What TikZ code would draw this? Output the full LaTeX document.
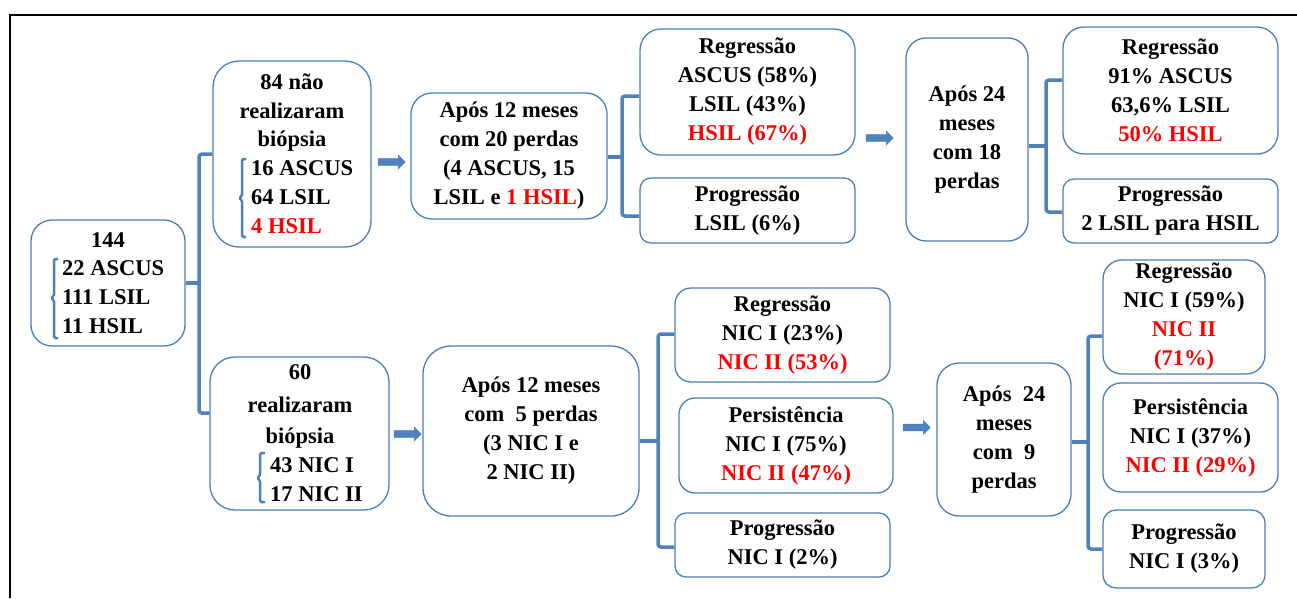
\documentclass[tikz,border=0pt]{standalone}
\usepackage{fontspec}
\setmainfont{Liberation Serif}
\usetikzlibrary{shapes.arrows}
\definecolor{boxblue}{RGB}{74,126,187}
\definecolor{brblue}{RGB}{79,129,189}
\definecolor{txtred}{RGB}{255,0,0}
\newcommand{\rd}[1]{\textcolor{txtred}{#1}}
\tikzset{
  box/.style={draw=boxblue, line width=1.3pt, rectangle, align=center, inner sep=0pt,
    font=\bfseries\fontsize{22.5}{29}\selectfont},
  txt/.style={inner sep=0pt, anchor=base, font=\bfseries\fontsize{22.5}{29}\selectfont},
  txtl/.style={txt, anchor=base west},
  brace/.style={draw=brblue, line width=3.5pt, rounded corners=3pt},
  bracket/.style={draw=brblue, line width=2.5pt, rounded corners=1.5pt},
  barrow/.style={single arrow, draw=boxblue, fill=brblue, line width=0.6pt,
    minimum height=27pt, inner xsep=0pt, inner ysep=3pt,
    single arrow head extend=3.5pt}
}
\begin{document}
\begin{tikzpicture}[x=1pt,y=-1pt]
\useasboundingbox (0,0) rectangle (1297,598);
% outer frame
\draw[line width=2pt] (10,598) -- (10,15) -- (1297,15);

% boxes
\node[box, minimum width=154pt, minimum height=126pt, rounded corners=21pt] (A) at (108,283) {};
\node[box, minimum width=158pt, minimum height=186pt, rounded corners=26pt] (B) at (292,154) {};
\node[box, minimum width=179pt, minimum height=153pt, rounded corners=25pt] (C) at (299.5,433.5) {};
\node[box, minimum width=196pt, minimum height=126pt, rounded corners=21pt] (D) at (509,156)
  {Após 12 meses\\com 20 perdas\\(4 ASCUS, 15\\LSIL e \rd{1 HSIL})};
\node[box, minimum width=215pt, minimum height=126pt, rounded corners=21pt] (E) at (747.5,92)
  {Regressão\\ASCUS (58\%)\\LSIL (43\%)\\\rd{HSIL (67\%)}};
\node[box, minimum width=215pt, minimum height=65pt, rounded corners=11pt] (F) at (747.5,210.5)
  {Progressão\\LSIL (6\%)};
\node[box, minimum width=122pt, minimum height=203pt, rounded corners=20pt] (G) at (967,139.5)
  {Após 24\\meses\\com 18\\perdas};
\node[box, minimum width=215pt, minimum height=127pt, rounded corners=21pt] (H) at (1170.5,90.5)
  {Regressão\\91\% ASCUS\\63,6\% LSIL\\\rd{50\% HSIL}};
\node[box, minimum width=215pt, minimum height=64pt, rounded corners=11pt] (I) at (1170.5,211)
  {Progressão\\2 LSIL para HSIL};
\node[box, minimum width=216pt, minimum height=170pt, rounded corners=28pt] (J) at (531,431)
  {Após 12 meses\\com\ \ 5 perdas\\(3 NIC I e\\2 NIC II)};
\node[box, minimum width=215pt, minimum height=94pt, rounded corners=16pt] (K) at (782.5,335)
  {Regressão\\NIC I (23\%)\\\rd{NIC II (53\%)}};
\node[box, minimum width=214pt, minimum height=95pt, rounded corners=16pt] (L) at (786,445.5)
  {Persistência\\NIC I (75\%)\\\rd{NIC II (47\%)}};
\node[box, minimum width=215pt, minimum height=64pt, rounded corners=11pt] (M) at (782.5,545)
  {Progressão\\NIC I (2\%)};
\node[box, minimum width=134pt, minimum height=153pt, rounded corners=22pt] (N) at (1004,439.5)
  {Após\ \ 24\\meses\\com\ \ 9\\perdas};
\node[box, minimum width=162pt, minimum height=114pt, rounded corners=19pt] (O) at (1184,317)
  {Regressão\\NIC I (59\%)\\\rd{NIC II}\\\rd{(71\%)}};
\node[box, minimum width=175pt, minimum height=109pt, rounded corners=18pt] (P) at (1190.5,437.5)
  {Persistência\\NIC I (37\%)\\\rd{NIC II (29\%)}};
\node[box, minimum width=162pt, minimum height=78pt, rounded corners=13pt] (Q) at (1184,549)
  {Progressão\\NIC I (3\%)};

% texts of A
\node[txt] (a0) at (108,247) {144};
\node[txtl] (a1) at (62,275) {22 ASCUS};
\node[txtl] (a2) at (62,304) {111 LSIL};
\node[txtl] (a3) at (62,333) {11 HSIL};
\draw[bracket] (58,259) -- (54,259) -- (54,296) -- (51,298) -- (54,300) -- (54,338) -- (58,338);

% texts of B
\node[txt] (b0) at (292,89) {84 não};
\node[txt] (b1) at (292,118) {realizaram};
\node[txt] (b2) at (292,146) {biópsia};
\node[txtl] (b3) at (251,175) {16 ASCUS};
\node[txtl] (b4) at (251,204) {64 LSIL};
\node[txtl] (b5) at (251,233) {\rd{4 HSIL}};
\draw[bracket] (246,159) -- (242,159) -- (242,196) -- (239,198) -- (242,200) -- (242,237) -- (246,237);

% texts of C
\node[txt] (c0) at (300,379) {60};
\node[txt] (c1) at (300,412) {realizaram};
\node[txt] (c2) at (300,443) {biópsia};
\node[txtl] (c3) at (270,472) {43 NIC I};
\node[txtl] (c4) at (270,501) {17 NIC II};
\draw[bracket] (265,453) -- (260,453) -- (260,476) -- (257,478) -- (260,480) -- (260,502) -- (265,502);

% braces
\draw[brace] (B.west) -- (199,154) -- (199,413) -- (C.west |- 0,413);
\draw[brace] (A.east) -- (199,283);
\draw[brace] (E.west |- 0,96) -- (622,96) -- (622,216) -- (F.west |- 0,216);
\draw[brace] (D.east |- 0,157) -- (622,157);
\draw[brace] (H.west |- 0,80) -- (1046,80) -- (1046,212) -- (I.west |- 0,212);
\draw[brace] (G.east |- 0,146) -- (1046,146);
\draw[brace] (K.west |- 0,334) -- (658,334) -- (658,547) -- (M.west |- 0,547);
\draw[brace] (J.east |- 0,441) -- (658,441);
\draw[brace] (O.west |- 0,336) -- (1088,336) -- (1088,549) -- (Q.west |- 0,549);
\draw[brace] (N.east |- 0,442) -- (1088,442);

% block arrows
\node[barrow] (ar1) at (390,162) {};
\node[barrow] (ar2) at (878,138) {};
\node[barrow] (ar3) at (406,434) {};
\node[barrow] (ar4) at (915,427.5) {};
\end{tikzpicture}
\end{document}
